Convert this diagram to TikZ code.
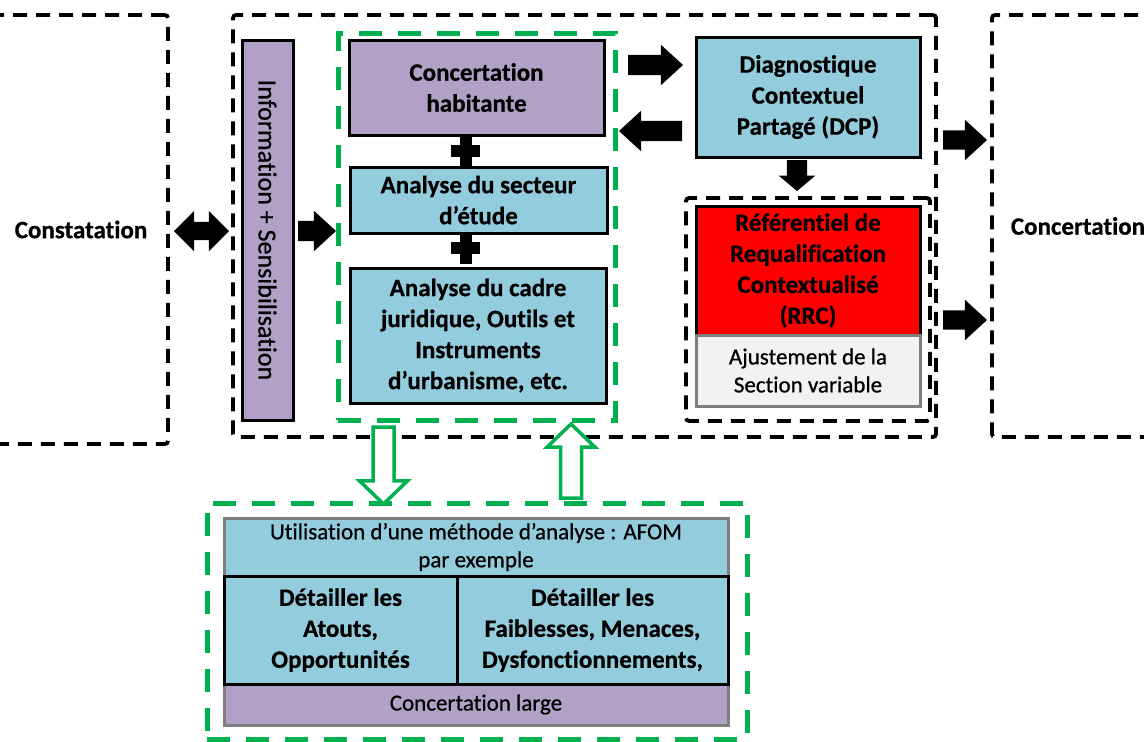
\documentclass[tikz,border=0pt]{standalone}
\usepackage{fontspec}
\setmainfont{Carlito}[Ligatures=NoCommon, BoldFeatures={FakeBold=0.6}]
\newfontfamily\mediumface{Carlito}[Ligatures=NoCommon, FakeBold=0.7]
\usetikzlibrary{shapes.arrows}

\definecolor{lilac}{HTML}{B2A1C7}
\definecolor{paleblue}{HTML}{93CDDD}
\definecolor{lightgrey}{HTML}{F2F2F2}
\definecolor{framegrey}{HTML}{7F7F7F}
\definecolor{dashgreen}{HTML}{00B050}
\definecolor{alertred}{HTML}{FF0000}

\tikzset{
  every node/.style={inner sep=0pt, outer sep=0pt},
  boldtext/.style={font=\fontsize{25}{31}\selectfont\bfseries},
  plaintext/.style={font=\mediumface\fontsize{23}{28}\selectfont},
  boxbase/.style={draw=black, line width=3pt, align=center, text=black},
  purplebox/.style={boxbase, fill=lilac},
  bluebox/.style={boxbase, fill=paleblue},
  greybox/.style={boxbase, draw=framegrey},
  blackdash/.style={draw=black, line width=3.8pt, dash pattern=on 14pt off 9pt, rounded corners=3pt},
  greendash/.style={draw=dashgreen, line width=5pt, dash pattern=on 23pt off 16pt},
  % horizontal shafts: thickness = 2 x inner ysep; head width = shaft + 2 x head extend
  fatarrow/.style={single arrow, fill=black, draw=none, anchor=tail,
    inner xsep=0pt, inner ysep=10pt, minimum width=0pt,
    single arrow head extend=10pt, single arrow tip angle=85},
  % vertical shafts take their thickness from inner xsep
  upright/.style={inner xsep=#1, inner ysep=0pt},
  twinarrow/.style={double arrow, fill=black, draw=none,
    inner xsep=0pt, inner ysep=9pt, minimum width=0pt,
    double arrow head extend=11pt, double arrow tip angle=90},
  hollowarrow/.style={single arrow, draw=dashgreen, fill=white, line width=3.5pt, anchor=tail,
    upright=8.75pt, minimum width=0pt,
    single arrow head extend=13.5pt, single arrow tip angle=92},
}

\begin{document}
\begin{tikzpicture}[x=1pt, y=-1pt]
\useasboundingbox (0,0) rectangle (1144,742);
\clip (0,0) rectangle (1144,742);

% dashed frames
\node[blackdash, boldtext, minimum width=174pt, minimum height=429pt] (constat) at (81,229.5) {Constatation};
\node[blackdash, minimum width=703pt, minimum height=422pt] (main) at (584.5,226) {};
\node[greendash, minimum width=277pt, minimum height=387pt] (analyses) at (476.5,226.5) {};
\node[blackdash, minimum width=244pt, minimum height=223pt] (rrcgroup) at (808,309.5) {};
\node[blackdash, boldtext, minimum width=172pt, minimum height=422pt] (concert) at (1078,226) {Concertation};
\node[greendash, minimum width=540pt, minimum height=236pt] (afomframe) at (477,621) {};

% vertical information bar
\node[purplebox, rotate=-90, minimum width=380pt, minimum height=51pt,
      font=\mediumface\fontsize{26}{30}\selectfont] (info) at (267.5,230) {Information + Sensibilisation};

% analysis column
\node[purplebox, boldtext, minimum width=255pt, minimum height=95pt] (habitante) at (476.5,87.5)
  {Concertation\\habitante};
\node[bluebox, boldtext, minimum width=257pt, minimum height=66pt] (secteur) at (478.5,200)
  {Analyse du secteur\\d’étude};
\node[bluebox, boldtext, minimum width=256pt, minimum height=135pt] (cadre) at (478,335.5)
  {Analyse du cadre\\juridique, Outils et\\Instruments\\d’urbanisme, etc.};

% plus signs between the analyses
\coordinate (plusA) at (466,151);
\coordinate (plusB) at (466,248);
\foreach \p in {plusA, plusB} {
  \fill[black] ([shift={(-6,-16)}]\p) rectangle ([shift={(6,16)}]\p);
  \fill[black] ([shift={(-15,-6)}]\p) rectangle ([shift={(14,6)}]\p);
}

% diagnostic and referential
\node[bluebox, boldtext, minimum width=224pt, minimum height=120pt] (dcp) at (808,97)
  {Diagnostique\\Contextuel\\Partagé (DCP)};
\node[boxbase, fill=alertred, boldtext, minimum width=224pt, minimum height=129pt] (rrc) at (808,270.5)
  {Référentiel de\\Requalification\\Contextualisé\\(RRC)};
\node[greybox, fill=lightgrey, plaintext, minimum width=224pt, minimum height=71pt] (ajust) at (808,370.5)
  {Ajustement de la\\Section variable};

% AFOM table
\node[greybox, fill=paleblue, plaintext, minimum width=504pt, minimum height=58pt] (afom) at (476,547)
  {Utilisation d’une méthode d’analyse : AFOM\\par exemple};
\node[greybox, fill=lilac, plaintext, minimum width=504pt, minimum height=41pt] (large) at (476,704.5)
  {Concertation large};
\node[bluebox, boldtext, minimum width=233pt, minimum height=108pt] (atouts) at (340.5,630)
  {Détailler les\\Atouts,\\Opportunités};
\node[bluebox, boldtext, minimum width=271pt, minimum height=108pt] (faibl) at (592.5,630)
  {Détailler les\\Faiblesses, Menaces,\\Dysfonctionnements,};

% block arrows
\node[twinarrow, minimum height=55pt] (a1) at (201.5,231) {};
\node[fatarrow, minimum height=38pt] (a2) at (298,231) {};
\node[fatarrow, minimum height=55pt] (a3) at (628,65) {};
\node[fatarrow, minimum height=63pt, shape border rotate=180] (a4) at (682,131) {};
\node[fatarrow, upright=10pt, minimum height=31pt, single arrow head extend=8pt,
      single arrow tip angle=100, shape border rotate=270] (a5) at (797,160) {};
\node[fatarrow, minimum height=44pt, inner ysep=9.5pt, single arrow head extend=10.5pt] (a6) at (943,140) {};
\node[fatarrow, minimum height=44pt, inner ysep=9.5pt, single arrow head extend=10.5pt] (a7) at (943,320) {};

% hollow green arrows to and from the AFOM frame
\node[hollowarrow, minimum height=77pt, shape border rotate=270] (down) at (383.5,427) {};
\node[hollowarrow, minimum height=74pt, shape border rotate=90] (up) at (571,498) {};
\end{tikzpicture}
\end{document}
